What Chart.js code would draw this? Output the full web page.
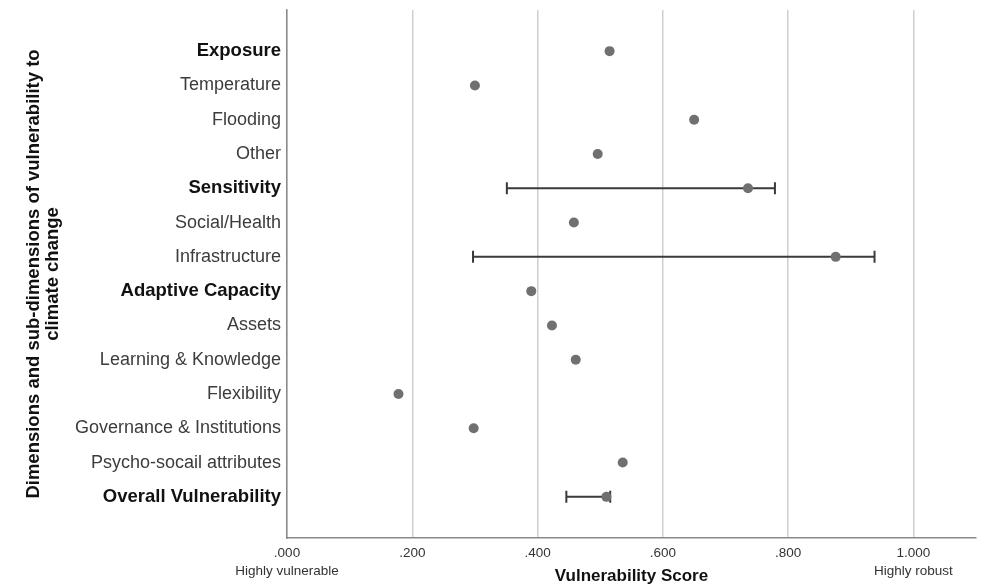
<!DOCTYPE html>
<html>
<head>
<meta charset="utf-8">
<title>Vulnerability Score</title>
<script src="https://cdn.jsdelivr.net/npm/chart.js@4.4.1/dist/chart.umd.min.js"></script>
<style>
  html, body { margin: 0; padding: 0; background: #fff; }
  #wrap { width: 981px; height: 587px; position: relative; }
</style>
</head>
<body>
<div id="wrap"><canvas id="grafica"></canvas></div>
<script>
const categorias = [
  'Exposure', 'Temperature', 'Flooding', 'Other',
  'Sensitivity', 'Social/Health', 'Infrastructure',
  'Adaptive Capacity', 'Assets', 'Learning & Knowledge', 'Flexibility',
  'Governance & Institutions', 'Psycho-socail attributes',
  'Overall Vulnerability'
];
const esDimension = [true, false, false, false, true, false, false, true, false, false, false, false, false, true];
const puntajes = [0.515, 0.300, 0.650, 0.496, 0.736, 0.458, 0.876, 0.390, 0.423, 0.461, 0.178, 0.298, 0.536, 0.510];
const errorBajo = [null, null, null, null, 0.351, null, 0.297, null, null, null, null, null, null, 0.446];
const errorAlto = [null, null, null, null, 0.779, null, 0.938, null, null, null, null, null, null, 0.516];

const xTicks = [0, 0.2, 0.4, 0.6, 0.8, 1.0];
const xEtiquetas = [['.000', 'Highly vulnerable'], '.200', '.400', '.600', '.800', ['1.000', 'Highly robust']];

const FUENTE = '"Liberation Sans", Arial, sans-serif';

// barras de error dibujadas antes de los puntos
const barrasError = {
  id: 'barrasError',
  beforeDatasetsDraw(chart) {
    const {ctx, scales: {x, y}} = chart;
    ctx.save();
    ctx.strokeStyle = '#3a3a3a';
    ctx.lineWidth = 2;
    errorBajo.forEach((lo, i) => {
      const hi = errorAlto[i];
      if (lo == null || hi == null) return;
      const py = y.getPixelForValue(i);
      const x1 = x.getPixelForValue(lo);
      const x2 = x.getPixelForValue(hi);
      ctx.beginPath();
      ctx.moveTo(x1, py); ctx.lineTo(x2, py);
      ctx.moveTo(x1, py - 6); ctx.lineTo(x1, py + 6);
      ctx.moveTo(x2, py - 6); ctx.lineTo(x2, py + 6);
      ctx.stroke();
    });
    ctx.restore();
  }
};

new Chart(document.getElementById('grafica'), {
  type: 'scatter',
  data: {
    datasets: [{
      data: puntajes.map((v, i) => ({x: v, y: i})),
      backgroundColor: '#707070',
      borderWidth: 0,
      pointRadius: 5,
      pointHoverRadius: 5
    }]
  },
  options: {
    responsive: true,
    maintainAspectRatio: false,
    animation: false,
    layout: { padding: { top: 10, right: 5, left: 0, bottom: 0 } },
    plugins: {
      legend: { display: false },
      tooltip: { enabled: false }
    },
    scales: {
      x: {
        type: 'linear',
        min: 0,
        max: 1.1,
        afterBuildTicks: s => { s.ticks = xTicks.map(v => ({value: v})); },
        afterFit: s => { s.height = 49; },
        grid: { color: '#cfcfcf', lineWidth: 1.5, drawTicks: false },
        border: { color: '#8a8a8a', width: 1.5 },
        ticks: {
          padding: 6,
          maxRotation: 0,
          autoSkip: false,
          color: '#333',
          font: { family: FUENTE, size: 13.5, lineHeight: 1.35 },
          callback: v => xEtiquetas[xTicks.findIndex(t => Math.abs(t - v) < 1e-9)]
        },
        title: {
          display: true,
          text: 'Vulnerability Score',
          color: '#111',
          padding: { top: 0, bottom: 0 },
          font: { family: FUENTE, size: 17, weight: 'bold', lineHeight: 1.2 }
        }
      },
      y: {
        type: 'linear',
        reverse: true,
        min: -1.2,
        max: 14.2,
        afterBuildTicks: s => { s.ticks = categorias.map((_, i) => ({value: i})); },
        afterFit: s => { s.width = 287; s.paddingTop = 0; s.paddingBottom = 0; },
        grid: { display: false, drawTicks: false },
        border: { color: '#8a8a8a', width: 1.5 },
        ticks: {
          padding: 6,
          autoSkip: false,
          callback: v => categorias[v],
          color: c => (c.tick && esDimension[c.tick.value]) ? '#111' : '#3c3c3c',
          font: c => (c.tick && esDimension[c.tick.value])
            ? { family: FUENTE, size: 18.5, weight: 'bold' }
            : { family: FUENTE, size: 18 }
        },
        title: {
          display: true,
          text: ['Dimensions and sub-dimensions of vulnerability to', 'climate change'],
          color: '#111',
          padding: { top: 25, bottom: 0 },
          font: { family: FUENTE, size: 18.5, weight: 'bold', lineHeight: 1.0 }
        }
      }
    }
  },
  plugins: [barrasError]
});
</script>
</body>
</html>
